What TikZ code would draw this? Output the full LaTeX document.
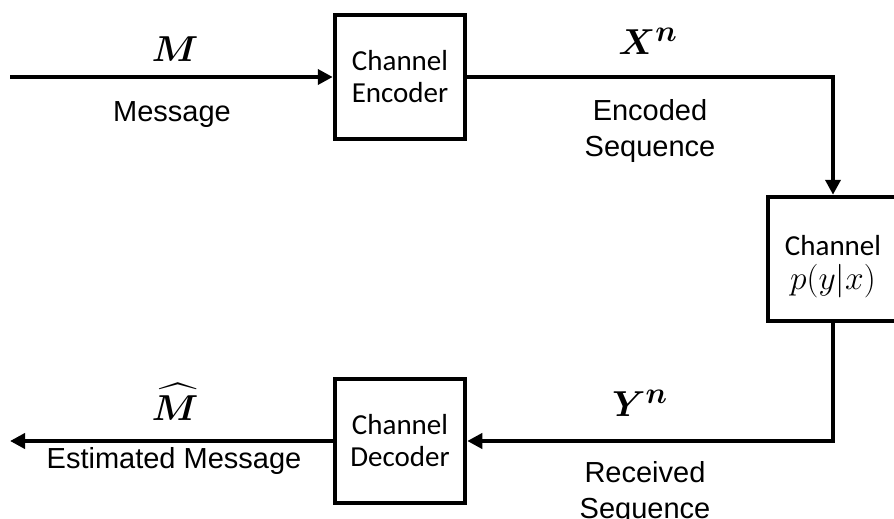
\documentclass[tikz,border=0pt]{standalone}
\usepackage{fontspec}
\usepackage{amsmath}
\usepackage{bm}
\usepackage{graphicx}
\setmainfont{Liberation Sans}
\newfontfamily\boxfont{Carlito}
\usetikzlibrary{arrows.meta}

\begin{document}
\begin{tikzpicture}[x=1pt,y=-1pt,
  blk/.style={draw, line width=4.5pt, minimum width=130pt, minimum height=124pt,
    inner sep=0pt, align=center, font=\boxfont\fontsize{29}{32}\selectfont},
  boxtxt/.style={inner sep=0pt, align=center, font=\boxfont\fontsize{29}{32}\selectfont},
  wire/.style={line width=4.5pt},
  arr/.style={wire, -{Triangle[length=15pt,width=15pt]}},
  lbl/.style={font=\fontsize{29}{36}\selectfont, align=center, inner sep=0pt},
  sym/.style={font=\Huge, inner sep=0pt}]

\useasboundingbox (0,0) rectangle (894,519);

% processing blocks
\node[blk] (enc) at (400,77)  {Channel\\Encoder};
\node[blk] (chn) at (833,259) {};
\node[boxtxt] (chntxt) at (833,267) {Channel\\[2pt]\scalebox{1.35}{$p(y|x)$}};
\node[blk] (dec) at (400,441) {Channel\\Decoder};

% free ends of the input and output lines
\coordinate (src) at (10,77);
\coordinate (snk) at (10,441);

% signal path
\draw[arr] (src) -- (enc.west);
\draw[arr] (enc.east) -| (chn.north);
\draw[arr] (chn.south) |- (dec.east);
\draw[arr] (dec.west) -- (snk);

% signal labels
\node[sym] (mlab) at (175,49)  {\scalebox{1.5}[1.45]{$\bm{M}$}};
\node[lbl] (msg)  at (172,115) {Message};
\node[sym] (xlab) at (648,41)  {\scalebox{1.45}{$\bm{X}^{\bm{n}}$}};
\node[lbl] (encseq) at (650,131) {Encoded\\Sequence};
\node[sym] (ylab) at (640,403) {\scalebox{1.45}{$\bm{Y}^{\bm{n}}$}};
\node[lbl] (recseq) at (645,493) {Received\\Sequence};
\node[sym] (mhat) at (175,402) {\scalebox{1.5}[1.45]{$\widehat{\bm{M}}$}};
\node[lbl] (est)  at (174,461) {Estimated Message};
\end{tikzpicture}
\end{document}
